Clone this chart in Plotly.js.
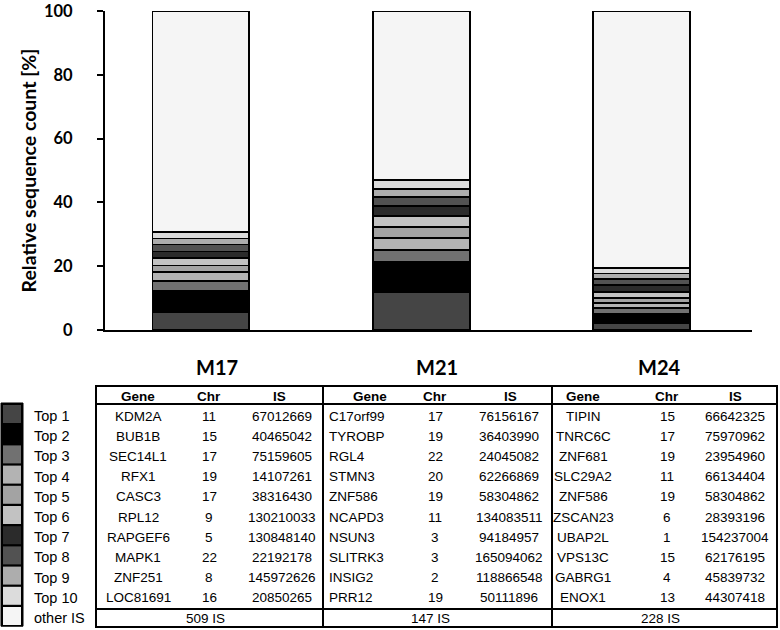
<!DOCTYPE html>
<html><head><meta charset="utf-8">
<script src="https://cdn.plot.ly/plotly-3.0.1.min.js"></script>
<style>body{margin:0;background:#fff}#chart{width:780px;height:630px}</style>
</head><body><div id="chart"></div>
<script>
// ---------- data ----------
const samples = ['M17', 'M21', 'M24'];
const seriesNames = ['Top 1','Top 2','Top 3','Top 4','Top 5','Top 6','Top 7','Top 8','Top 9','Top 10','other IS'];
const top1  = [5.6, 11.8, 2.3];
const top2  = [6.7, 9.4, 2.8];
const top3  = [3.1, 3.8, 1.7];
const top4  = [2.7, 3.8, 1.6];
const top5  = [2.1, 3.6, 1.6];
const top6  = [2.4, 3.3, 2.0];
const top7  = [2.0, 3.2, 2.0];
const top8  = [2.2, 2.8, 1.9];
const top9  = [1.9, 2.4, 1.8];
const top10 = [2.0, 2.8, 1.8];
const otherIS = [69.3, 53.1, 80.5];
const yTicks = [0, 20, 40, 60, 80, 100];

const m17Gene = ['KDM2A','BUB1B','SEC14L1','RFX1','CASC3','RPL12','RAPGEF6','MAPK1','ZNF251','LOC81691'];
const m17Chr  = ['11','15','17','19','17','9','5','22','8','16'];
const m17IS   = ['67012669','40465042','75159605','14107261','38316430','130210033','130848140','22192178','145972626','20850265'];
const m21Gene = ['C17orf99','TYROBP','RGL4','STMN3','ZNF586','NCAPD3','NSUN3','SLITRK3','INSIG2','PRR12'];
const m21Chr  = ['17','19','22','20','19','11','3','3','2','19'];
const m21IS   = ['76156167','36403990','24045082','62266869','58304862','134083511','94184957','165094062','118866548','50111896'];
const m24Gene = ['TIPIN','TNRC6C','ZNF681','SLC29A2','ZNF586','ZSCAN23','UBAP2L','VPS13C','GABRG1','ENOX1'];
const m24Chr  = ['15','17','19','11','19','6','1','15','4','13'];
const m24IS   = ['66642325','75970962','23954960','66134404','58304862','28393196','154237004','62176195','45839732','44307418'];
const otherCounts = ['509 IS', '147 IS', '228 IS'];
const colHeaders = ['Gene', 'Chr', 'IS'];

// ---------- styles ----------
const colors = ['#454545','#000000','#717171','#b3b3b3','#a3a3a3','#c2c2c2','#2b2b2b','#525252','#adadad','#dcdcdc','#f5f5f5'];
const W = 780, H = 630;
const plotL = 105, plotR = 752, plotT = 11, plotB = 330;
const boldFont = 'Lato, "Open Sans", sans-serif';
const tblFont = '"Liberation Sans", Arial, sans-serif';
const tblSize = 13.5;

const seriesValues = [top1, top2, top3, top4, top5, top6, top7, top8, top9, top10, otherIS];

const traces = seriesValues.map((vals, i) => ({
  type: 'bar', x: samples, y: vals, name: seriesNames[i],
  marker: {color: colors[i], line: {color: '#000', width: 1.8}},
  width: 0.44, hoverinfo: 'skip', showlegend: false,
  xaxis: 'x', yaxis: 'y'
}));
traces.push({type: 'scatter', x: [], y: [], xaxis: 'x2', yaxis: 'y2', showlegend: false, hoverinfo: 'skip'});

// ---------- table geometry (pixel space on overlay axes) ----------
const tblTop = 386, hdrBot = 404, otherTop = 609, tblBot = 627;
const vLines = [96, 323, 552, 777];
const rowY0 = 416, rowStep = 20.2;
const sectionTitleX = [217, 437, 659];
const sectionTitleY = 367;
const hdrX = [[138, 209, 279], [370, 435, 510], [583, 667, 735]];
const dataX = [[138, 209, 282], [327, 435, 509], [583, 667, 735]];
const otherX = [205, 430, 660];
const sections = [[m17Gene, m17Chr, m17IS], [m21Gene, m21Chr, m21IS], [m24Gene, m24Chr, m24IS]];

const shapes = [];
const ann = [];
const line = (x0, y0, x1, y1, w) => shapes.push({type: 'line', xref: 'x2', yref: 'y2', x0, y0, x1, y1, line: {color: '#000', width: w}});

// table lines
line(vLines[0], tblTop, vLines[3], tblTop, 2);
line(vLines[0], hdrBot, vLines[3], hdrBot, 2);
line(vLines[0], otherTop, vLines[3], otherTop, 2);
line(vLines[0], tblBot, vLines[3], tblBot, 2);
vLines.forEach(x => line(x, tblTop - 1, x, tblBot + 1, 2));

// legend boxes
const legL = 1, legR = 23, legTop = 403, legStep = 20.2;
shapes.push({type: 'rect', xref: 'x2', yref: 'y2', x0: legL, x1: legR, y0: legTop, y1: legTop + legStep * seriesNames.length + 1,
  fillcolor: '#000', line: {color: '#000', width: 1}});
seriesNames.forEach((n, i) => {
  const y0 = legTop + 2 + legStep * i;
  shapes.push({type: 'rect', xref: 'x2', yref: 'y2', x0: legL + 2, x1: legR - 2, y0: y0, y1: y0 + legStep - 2.2,
    fillcolor: colors[i], line: {width: 0}});
  ann.push({xref: 'x2', yref: 'y2', x: 32, y: rowY0 + rowStep * i, text: n, showarrow: false,
    xanchor: 'left', yanchor: 'middle', font: {family: tblFont, size: 14.5, color: '#000'}});
});

// section titles, headers, data
samples.forEach((s, k) => {
  ann.push({xref: 'x2', yref: 'y2', x: sectionTitleX[k], y: sectionTitleY, text: s, showarrow: false,
    xanchor: 'center', yanchor: 'middle', font: {family: boldFont, size: 20, weight: 700, color: '#000'}});
  colHeaders.forEach((h, c) => {
    ann.push({xref: 'x2', yref: 'y2', x: hdrX[k][c], y: 396, text: h, showarrow: false,
      xanchor: 'center', yanchor: 'middle', font: {family: tblFont, size: tblSize, weight: 700, color: '#000'}});
  });
  sections[k].forEach((col, c) => {
    col.forEach((v, r) => {
      const leftAligned = (k === 1 && c === 0);
      ann.push({xref: 'x2', yref: 'y2', x: dataX[k][c], y: rowY0 + rowStep * r, text: v, showarrow: false,
        xanchor: leftAligned ? 'left' : 'center', yanchor: 'middle', font: {family: tblFont, size: tblSize, color: '#000'}});
    });
  });
  ann.push({xref: 'x2', yref: 'y2', x: otherX[k], y: 618, text: otherCounts[k], showarrow: false,
    xanchor: 'center', yanchor: 'middle', font: {family: tblFont, size: tblSize, color: '#000'}});
});

// y axis title
ann.push({xref: 'x2', yref: 'y2', x: 28, y: (plotT + plotB) / 2, text: 'Relative sequence count [%]', textangle: -90,
  showarrow: false, xanchor: 'center', yanchor: 'middle', font: {family: boldFont, size: 19.5, weight: 700, color: '#000'}});

const layout = {
  width: W, height: H, margin: {l: 0, r: 0, t: 0, b: 0},
  paper_bgcolor: '#fff', plot_bgcolor: 'rgba(0,0,0,0)',
  barmode: 'stack', showlegend: false,
  xaxis: {domain: [plotL / W, plotR / W], type: 'category', range: [-0.435, 2.5],
    showticklabels: false, ticks: '', showline: true, linecolor: '#000', linewidth: 2, showgrid: false, zeroline: false,
    anchor: 'y', fixedrange: true},
  yaxis: {domain: [(H - plotB) / H, (H - plotT) / H], range: [0, 100], tickvals: yTicks,
    ticks: 'outside', ticklen: 6, tickwidth: 2, tickcolor: '#000', ticklabelstandoff: 21, ticklabeloverflow: 'allow',
    showline: true, linecolor: '#000', linewidth: 2, showgrid: false, zeroline: false,
    tickfont: {family: boldFont, size: 16.5, weight: 700, color: '#000'}, anchor: 'x', fixedrange: true},
  xaxis2: {domain: [0, 1], range: [0, W], visible: false, anchor: 'y2', fixedrange: true},
  yaxis2: {domain: [0, 1], range: [H, 0], visible: false, anchor: 'x2', fixedrange: true},
  shapes: shapes, annotations: ann
};

Plotly.newPlot('chart', traces, layout, {displayModeBar: false, staticPlot: true});
</script>
</body></html>
